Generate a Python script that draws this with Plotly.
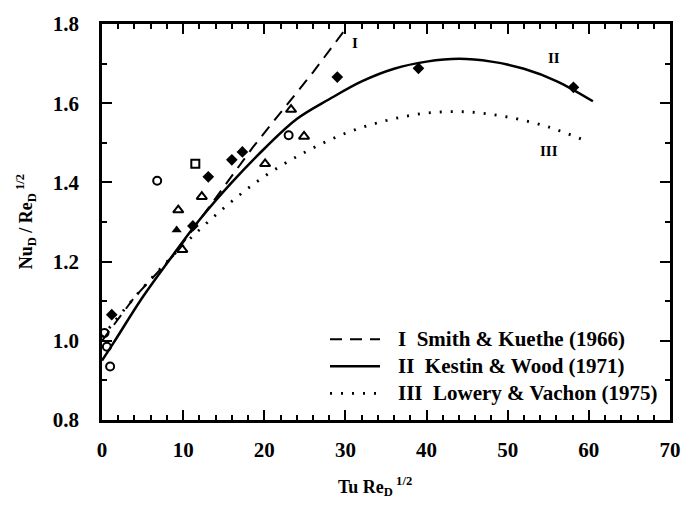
import plotly.graph_objects as go

# ---- data ----
smith_x = [0, 4, 9, 18.6, 26, 30.3]
smith_y = [1.0, 1.11, 1.22, 1.489, 1.678, 1.795]

kestin_x = [0, 1.4, 5, 8.8, 12, 16, 20, 24, 28, 32, 36, 40, 44, 48, 52, 56, 60.5]
kestin_y = [0.95, 0.994, 1.11, 1.218, 1.305, 1.40, 1.485, 1.56, 1.61, 1.655, 1.687,
            1.705, 1.712, 1.705, 1.687, 1.656, 1.605]

lowery_x = [0, 5, 10, 15, 20, 25, 30, 35, 40, 45, 50, 55, 59.6]
lowery_y = [1.01, 1.133, 1.241, 1.335, 1.415, 1.476, 1.524, 1.556, 1.575, 1.578,
            1.565, 1.54, 1.505]

circ_x = [0.3, 0.6, 1.0, 6.8, 23.0]
circ_y = [1.02, 0.985, 0.935, 1.404, 1.519]
sq_x = [11.5]
sq_y = [1.447]
dia_x = [1.2, 11.2, 13.1, 16.0, 17.3, 29.0, 39.0, 58.1]
dia_y = [1.066, 1.29, 1.414, 1.457, 1.477, 1.666, 1.688, 1.64]
tri_x = [9.4, 9.9, 12.3, 20.1, 23.3, 24.9]
tri_y = [1.33, 1.23, 1.364, 1.447, 1.584, 1.516]
ftri_x = [9.2]
ftri_y = [1.28]

lbl_text = ["I", "II", "III"]
lbl_x = [31.2, 55.7, 55.1]
lbl_y = [1.753, 1.713, 1.479]

names = ["I  Smith &amp; Kuethe (1966)", "II  Kestin &amp; Wood (1971)",
         "III  Lowery &amp; Vachon (1975)"]

FONT = "Liberation Serif"
W, H = 699, 505
ML, MR, MT, MB = 102, 29, 18, 85
PW, PH = W - ML - MR, H - MT - MB

line_styles = [dict(color="black", width=2, dash="12px,8px"),
               dict(color="black", width=2.5),
               dict(color="black", width=2.8, dash="2px,9px")]

fig = go.Figure()

fig.add_trace(go.Scatter(x=smith_x, y=smith_y, mode="lines", name=names[0],
                         showlegend=False, line=line_styles[0]))
fig.add_trace(go.Scatter(x=kestin_x, y=kestin_y, mode="lines", name=names[1],
                         showlegend=False, line_shape="spline", line=line_styles[1]))
fig.add_trace(go.Scatter(x=lowery_x, y=lowery_y, mode="lines", name=names[2],
                         showlegend=False, line_shape="spline", line=line_styles[2]))

fig.add_trace(go.Scatter(x=circ_x, y=circ_y, mode="markers", showlegend=False,
                         marker=dict(symbol="circle-open", size=8, color="black",
                                     line=dict(width=2, color="black"))))
fig.add_trace(go.Scatter(x=sq_x, y=sq_y, mode="markers", showlegend=False,
                         marker=dict(symbol="square-open", size=8, color="black",
                                     line=dict(width=2, color="black"))))
fig.add_trace(go.Scatter(x=dia_x, y=dia_y, mode="markers", showlegend=False,
                         marker=dict(symbol="diamond", size=9, color="black")))
fig.add_trace(go.Scatter(x=tri_x, y=tri_y, mode="markers", showlegend=False,
                         marker=dict(symbol="triangle-up-open", size=9, color="black",
                                     line=dict(width=2, color="black"))))
fig.add_trace(go.Scatter(x=ftri_x, y=ftri_y, mode="markers", showlegend=False,
                         marker=dict(symbol="triangle-up", size=9, color="black")))

for t, x, y in zip(lbl_text, lbl_x, lbl_y):
    fig.add_annotation(x=x, y=y, text=t, showarrow=False,
                       font=dict(family=FONT, size=15, color="black", weight="bold"))

# manual legend (pixel positions converted to paper coords)
def px(xp):
    return (xp - ML) / PW

def py(yp):
    return (MT + PH - yp) / PH

for i, (nm, st) in enumerate(zip(names, line_styles)):
    yrow = 338 + 27.5 * i
    fig.add_shape(type="line", xref="paper", yref="paper",
                  x0=px(330), x1=px(380), y0=py(yrow), y1=py(yrow), line=st)
    fig.add_annotation(xref="paper", yref="paper", x=px(396), y=py(yrow),
                       xanchor="left", yanchor="middle", text=nm, showarrow=False,
                       font=dict(family=FONT, size=21, color="black", weight="bold"))

axis_common = dict(showline=True, linewidth=2.5, linecolor="black", mirror="allticks",
                   ticks="inside", ticklen=10, tickwidth=2, tickcolor="black",
                   showgrid=False, zeroline=False,
                   tickfont=dict(family=FONT, size=21, color="black", weight="bold"))

fig.update_xaxes(range=[0, 70], dtick=10, tick0=0,
                 minor=dict(dtick=2, ticklen=5, tickwidth=2, ticks="inside", tickcolor="black"),
                 ticklabelstandoff=9, **axis_common)
fig.update_yaxes(range=[0.8, 1.8], dtick=0.2, tick0=0.8, tickformat=".1f",
                 minor=dict(dtick=0.1, ticklen=5, tickwidth=2, ticks="inside", tickcolor="black"),
                 ticklabelstandoff=16, **axis_common)

fig.add_annotation(xref="paper", yref="paper", x=0.48, y=-0.168, xanchor="center",
                   yanchor="middle",
                   text="Tu Re<sub>D</sub><sup> 1/2</sup>", showarrow=False,
                   font=dict(family=FONT, size=18, color="black", weight="bold"))
fig.add_annotation(xref="paper", yref="paper", x=-0.135, y=0.5, textangle=-90,
                   xanchor="center", yanchor="middle",
                   text="Nu<sub>D</sub> / Re<sub>D</sub><sup> 1/2</sup>", showarrow=False,
                   font=dict(family=FONT, size=18, color="black", weight="bold"))

fig.update_layout(
    width=W, height=H,
    margin=dict(l=ML, r=MR, t=MT, b=MB),
    plot_bgcolor="white", paper_bgcolor="white",
    showlegend=False,
)

fig.write_html("out.html")
